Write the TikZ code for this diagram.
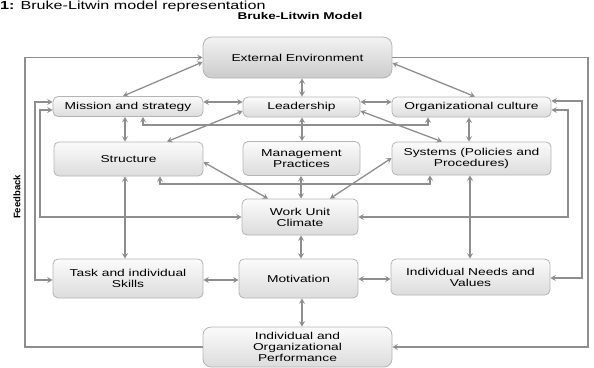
\documentclass[tikz,border=0pt]{standalone}
\usepackage{fontspec}
\setmainfont{Liberation Sans}
\newfontfamily\boxfont[FakeStretch=1.38]{Liberation Sans}
\usetikzlibrary{arrows.meta}

\definecolor{linkgray}{HTML}{8E8E8E}
\definecolor{boxline}{HTML}{B4B4B4}
\definecolor{boxtop}{HTML}{FBFBFB}
\definecolor{boxbot}{HTML}{DCDCDC}
\definecolor{exttop}{HTML}{F3F3F3}
\definecolor{extbot}{HTML}{CBCBCB}

\begin{document}
\begin{tikzpicture}[x=1pt,y=-1pt,
  >={Stealth[length=5.5pt,width=6pt,inset=2.2pt]},
  box/.style={draw=boxline, line width=0.8pt, rounded corners=5pt,
    top color=boxtop, bottom color=boxbot, align=center, inner sep=0pt,
    font=\boxfont\fontsize{10}{11}\selectfont},
  link/.style={draw=linkgray, line width=1.3pt}]

\useasboundingbox (0,0) rectangle (594,367);
\clip (0,0) rectangle (594,367);

% headings
\node[anchor=base west, inner sep=0pt, font=\boxfont\fontsize{11.7}{13}\selectfont]
  (title) at (0,9.5) {\textbf{1:} Bruke-Litwin model representation};
\node[anchor=base, inner sep=0pt, font=\boxfont\bfseries\fontsize{9.8}{11}\selectfont]
  (sub) at (300,19.5) {Bruke-Litwin Model};
\node[rotate=90, inner sep=0pt, font=\bfseries\fontsize{9.5}{11}\selectfont]
  (fb) at (17,197) {Feedback};

% boxes
\node[box, minimum width=189pt, minimum height=41pt, rounded corners=9pt,
      top color=exttop, bottom color=extbot] (ext) at (297.5,57.5) {External Environment};
\node[box, minimum width=150pt, minimum height=20pt] (mis)  at (128,106.5) {Mission and strategy};
\node[box, minimum width=117pt, minimum height=20pt] (lead) at (301.5,107) {Leadership};
\node[box, minimum width=159pt, minimum height=20pt] (cult) at (471.5,107) {Organizational culture};
\node[box, minimum width=149pt, minimum height=34pt] (struc) at (128.5,159) {Structure};
\node[box, minimum width=117pt, minimum height=34pt] (mgmt) at (301.5,158.5) {Management\\Practices};
\node[box, minimum width=159pt, minimum height=33pt] (sys) at (471.5,158.5) {Systems (Policies and\\Procedures)};
\node[box, minimum width=116pt, minimum height=36pt] (wuc) at (300,217) {Work Unit\\Climate};
\node[box, minimum width=150pt, minimum height=39pt] (task) at (128,278.5) {Task and individual\\Skills};
\node[box, minimum width=119pt, minimum height=39pt] (mot) at (298.5,278.5) {Motivation};
\node[box, minimum width=159pt, minimum height=36pt] (needs) at (470.5,277) {Individual Needs and\\Values};
\node[box, minimum width=189pt, minimum height=40pt, rounded corners=8pt] (perf) at (297.5,347)
  {Individual and\\Organizational\\Performance};

% outer feedback loops
\draw[link,->] (perf.west) -- (25,347) -- (25,57.5) -- (ext.west);
\draw[link,->] (ext.east) -- (588,57.5) -- (588,347) -- (perf.east);

% left side loops
\draw[link,<->] (mis.west |- 0,102) -- (35,102) -- (35,280) -- (task.west |- 0,280);
\draw[link,<->] (mis.west |- 0,110) -- (40,110) -- (40,217) -- (wuc.west);

% right side loops
\draw[link,<->] (cult.east |- 0,101) -- (582,101) -- (582,278) -- (needs.east |- 0,278);
\draw[link,<->] (cult.east |- 0,110) -- (568,110) -- (568,217) -- (wuc.east);

% bus lines under the second and third rows
\draw[link,<->] (mis.south -| 143,0) -- (143,125) -- (428,125) -- (cult.south -| 428,0);
\draw[link,<->] (struc.south -| 160,0) -- (160,184) -- (430,184) -- (sys.south -| 430,0);

% top links
\draw[link,<->] (ext.west |- 0,62) -- (mis.north -| 123,0);
\draw[link,<->] (ext.south -| 302,0) -- (lead.north -| 302,0);
\draw[link,<->] (ext.east |- 0,63) -- (cult.north -| 475,0);
\draw[link,<->] (mis.east |- 0,102) -- (lead.west |- 0,102);
\draw[link,<->] (lead.east |- 0,102) -- (cult.west |- 0,102);

% second row links
\draw[link,<->] (mis.south -| 125,0) -- (struc.north -| 125,0);
\draw[link,<->] (lead.south -| 302,0) -- (mgmt.north -| 302,0);
\draw[link,<->] (cult.south -| 469,0) -- (sys.north -| 469,0);
\draw[link,<->] (lead.west |- 0,111) -- (struc.north -| 167,0);
\draw[link,<->] (lead.east |- 0,111) -- (sys.north -| 442,0);

% links around the work unit climate
\draw[link,<->] (struc.east |- 0,162) -- (wuc.north -| 268,0);
\draw[link,<->] (mgmt.south -| 301,0) -- (wuc.north -| 301,0);
\draw[link,<->] (sys.west |- 0,158) -- (wuc.north -| 330,0);
\draw[link,<->] (struc.south -| 125,0) -- (task.north -| 125,0);
\draw[link,<->] (sys.south -| 470,0) -- (needs.north -| 470,0);
\draw[link,<->] (wuc.south -| 301,0) -- (mot.north -| 301,0);

% bottom row links
\draw[link,<->] (task.east |- 0,280) -- (mot.west |- 0,280);
\draw[link,<->] (mot.east |- 0,279) -- (needs.west |- 0,279);
\draw[link,<->] (mot.south -| 302,0) -- (perf.north -| 302,0);

\end{tikzpicture}
\end{document}
